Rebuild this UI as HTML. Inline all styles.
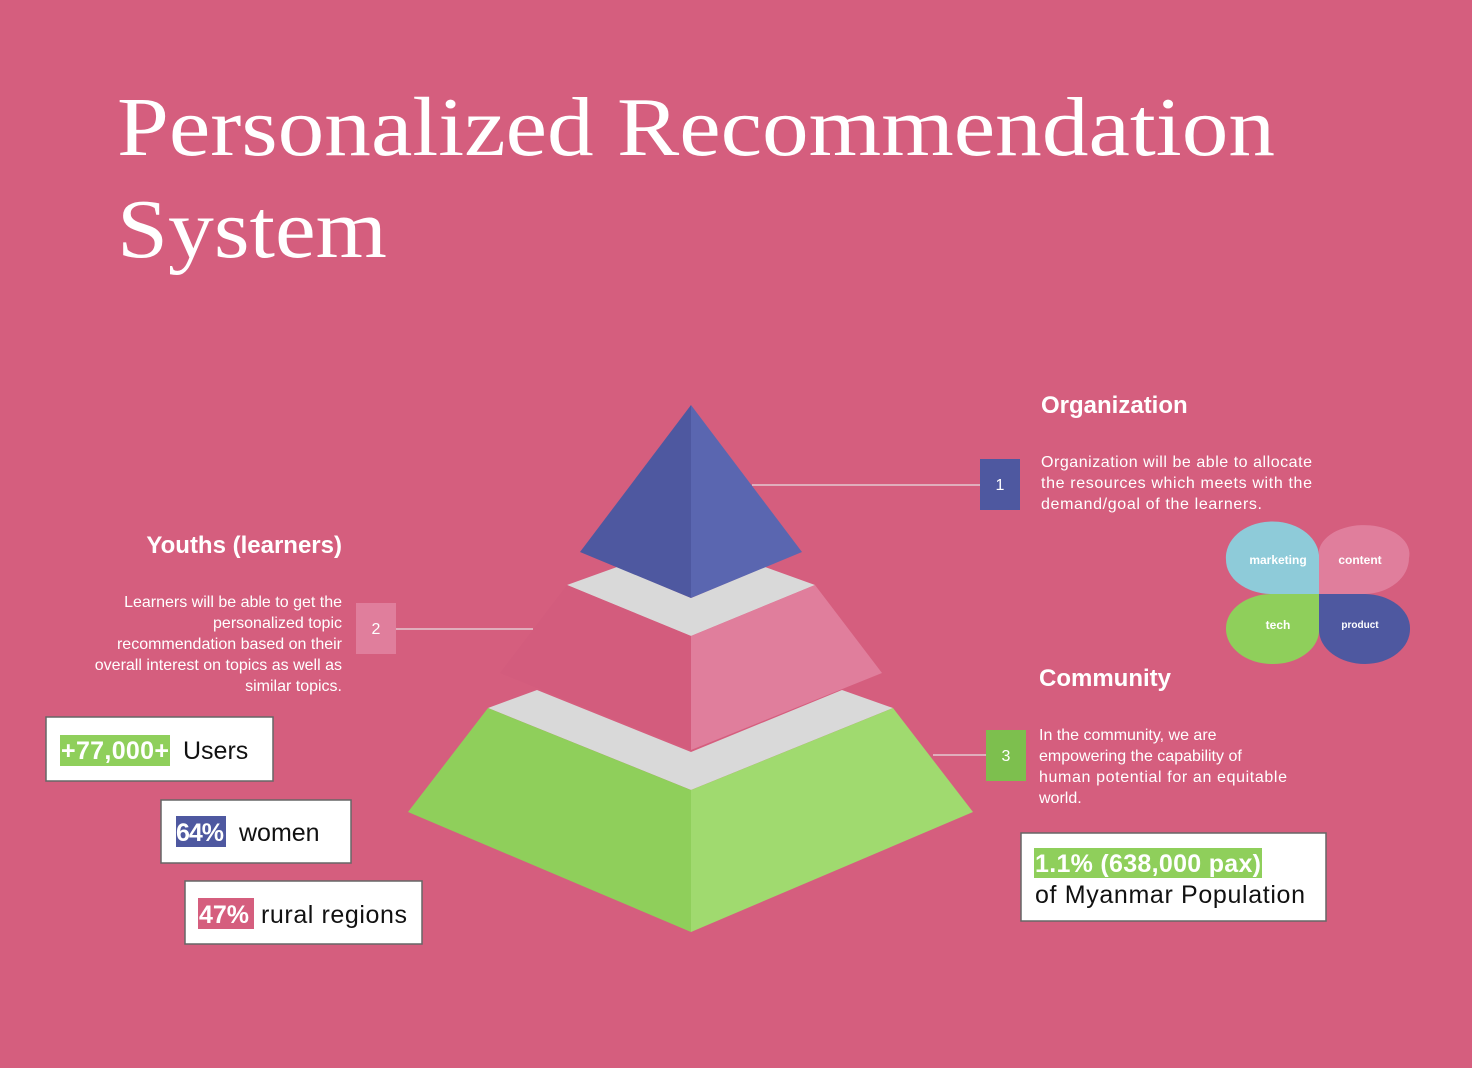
<!DOCTYPE html>
<html><head><meta charset="utf-8"><style>
html,body{margin:0;padding:0;background:#d55e7e;}
svg{display:block;}
.s{font-family:"Liberation Sans",sans-serif;}
</style></head><body>
<svg width="1472" height="1068" viewBox="0 0 1472 1068" xmlns="http://www.w3.org/2000/svg">
<rect width="1472" height="1068" fill="#d55e7e"/>
<g fill="#fff" font-family="'Liberation Serif',serif" font-size="84">
<text x="117" y="155" textLength="1158" lengthAdjust="spacingAndGlyphs">Personalized Recommendation</text>
<text x="117" y="257" textLength="270" lengthAdjust="spacingAndGlyphs">System</text>
</g>
<g>
<polygon fill="#d9d9d9" points="488,708 537,690 691,752 842,690 893,708 691,790"/>
<polygon fill="#8fcf5b" points="488,708 691,790 691,932 408,812"/>
<polygon fill="#a0da6f" points="893,708 691,790 691,932 973,812"/>
<polygon fill="#d9d9d9" points="567,585 617,567 691,598 765,567 815,585 691,636"/>
<polygon fill="#d35c7d" points="567,585 691,636 691,750 500,673"/>
<polygon fill="#e07e9c" points="815,585 691,636 691,750 882,673"/>
<polygon fill="#4e58a0" points="691,405 580,552 691,598"/>
<polygon fill="#5a66b0" points="691,405 802,552 691,598"/>
</g>
<g stroke="#e4c9d0" stroke-width="1.5">
<line x1="752" y1="485" x2="980" y2="485"/>
<line x1="396" y1="629" x2="533" y2="629"/>
<line x1="933" y1="755" x2="986" y2="755"/>
</g>
<g><rect x="980" y="459" width="40" height="51" fill="#4e58a0"/><text class="s" x="1000" y="490" fill="#fff" font-size="16" text-anchor="middle">1</text></g>
<g><rect x="356" y="603" width="40" height="51" fill="#e07e9c"/><text class="s" x="376" y="634" fill="#fff" font-size="16" text-anchor="middle">2</text></g>
<g><rect x="986" y="730" width="40" height="51" fill="#7dbf4e"/><text class="s" x="1006" y="761" fill="#fff" font-size="16" text-anchor="middle">3</text></g>
<text class="s" x="1041" y="413" fill="#fff" font-size="24" font-weight="bold">Organization</text>
<g class="s" fill="#fff" font-size="16">
<text x="1041" y="467" textLength="271">Organization will be able to allocate</text>
<text x="1041" y="488" textLength="271">the resources which meets with the</text>
<text x="1041" y="509" textLength="221">demand/goal of the learners.</text>
</g>
<text class="s" x="342" y="553" fill="#fff" font-size="24" font-weight="bold" text-anchor="end">Youths (learners)</text>
<g class="s" fill="#fff" font-size="16" text-anchor="end">
<text x="342" y="607">Learners will be able to get the</text>
<text x="342" y="628">personalized topic</text>
<text x="342" y="649">recommendation based on their</text>
<text x="342" y="670">overall interest on topics as well as</text>
<text x="342" y="691">similar topics.</text>
</g>
<text class="s" x="1039" y="686" fill="#fff" font-size="24" font-weight="bold">Community</text>
<g class="s" fill="#fff" font-size="16">
<text x="1039" y="740">In the community, we are</text>
<text x="1039" y="761">empowering the capability of</text>
<text x="1039" y="782" textLength="248">human potential for an equitable</text>
<text x="1039" y="803">world.</text>
</g>
<g class="s" font-size="12" font-weight="bold" fill="#fff" text-anchor="middle">
<path d="M1319,594 L1319,555 A44,34 0 0 0 1226,560 A46,34 0 0 0 1270,594 Z" fill="#8ecbd9"/>
<path d="M1319,594 L1319,550 A44,28 0 0 1 1409,558 A45,36 0 0 1 1365,594 Z" fill="#e07e9c"/>
<path d="M1319,594 L1319,632 A46,34 0 0 1 1272,664 A46,35 0 0 1 1226,628 A46,34 0 0 1 1272,594 Z" fill="#8fcf5b"/>
<path d="M1319,594 L1319,630 A46,34 0 0 0 1365,664 A45,35 0 0 0 1410,628 A46,34 0 0 0 1365,594 Z" fill="#4e58a0"/>
<text x="1278" y="564">marketing</text><text x="1360" y="564">content</text>
<text x="1278" y="629">tech</text><text x="1360" y="628" font-size="10">product</text>
</g>
<g class="s" font-size="25">
<rect x="46" y="717" width="227" height="64" fill="#fff" stroke="#666" stroke-width="1.5"/>
<rect x="60" y="735" width="110" height="31" fill="#8fcf5b"/>
<text x="61" y="759" fill="#fff" font-weight="bold" textLength="108">+77,000+</text><text x="183" y="759" fill="#111">Users</text>
</g>
<g class="s" font-size="25">
<rect x="161" y="800" width="190" height="63" fill="#fff" stroke="#666" stroke-width="1.5"/>
<rect x="176" y="816" width="50" height="31" fill="#4e58a0"/>
<text x="176" y="841" fill="#fff" font-weight="bold" textLength="48">64%</text><text x="239" y="841" fill="#111">women</text>
</g>
<g class="s" font-size="25">
<rect x="185" y="881" width="237" height="63" fill="#fff" stroke="#666" stroke-width="1.5"/>
<rect x="198" y="898" width="56" height="31" fill="#d55e7e"/>
<text x="199" y="923" fill="#fff" font-weight="bold" textLength="50">47%</text><text x="261" y="923" fill="#111" textLength="146">rural regions</text>
</g>
<g class="s" font-size="25">
<rect x="1021" y="833" width="305" height="88" fill="#fff" stroke="#666" stroke-width="1.5"/>
<rect x="1034" y="848" width="228" height="30" fill="#8fcf5b"/>
<text x="1035" y="872" fill="#fff" font-weight="bold" textLength="226">1.1% (638,000 pax)</text>
<text x="1035" y="903" fill="#111" textLength="270">of Myanmar Population</text>
</g>
</svg>
</body></html>
